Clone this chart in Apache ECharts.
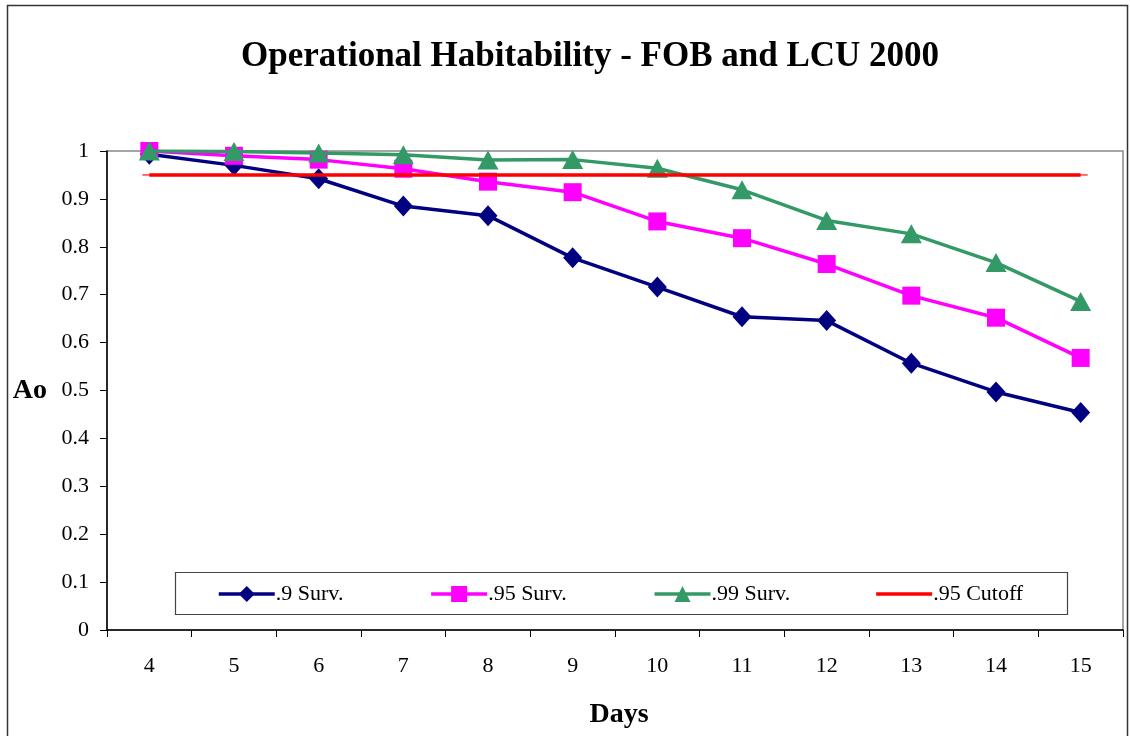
<!DOCTYPE html>
<html><head><meta charset="utf-8">
<script src="https://cdn.jsdelivr.net/npm/echarts@6/dist/echarts.min.js"></script>
<style>html,body{margin:0;padding:0;background:#fff;overflow:hidden}#c{width:1130px;height:736px}</style>
</head><body><div id="c"></div>
<script>
const days = ['4','5','6','7','8','9','10','11','12','13','14','15'];
const surv90 = [0.993,0.970,0.942,0.885,0.865,0.777,0.716,0.654,0.646,0.557,0.497,0.454];
const surv95 = [1.000,0.990,0.982,0.963,0.936,0.914,0.853,0.818,0.764,0.698,0.652,0.568];
const surv99 = [1.000,0.999,0.996,0.992,0.981,0.982,0.964,0.919,0.855,0.827,0.767,0.686];
const cutoff = [0.95,0.95,0.95,0.95,0.95,0.95,0.95,0.95,0.95,0.95,0.95,0.95];
const yTicks = {min:0, max:1, interval:0.1};
const names = ['.9 Surv.','.95 Surv.','.99 Surv.','.95 Cutoff'];

const serif = '"Liberation Serif","Times New Roman",serif';
const chart = echarts.init(document.getElementById('c'));
chart.setOption({
  animation:false,
  backgroundColor:'#fff',
  textStyle:{fontFamily:serif},
  title:{text:'Operational Habitability - FOB and LCU 2000', left:236, top:34,
    textStyle:{fontFamily:serif,fontWeight:'bold',fontSize:35,color:'#000'}},
  graphic:[
    {type:'rect',shape:{x:7.5,y:5.5,width:1120,height:740},style:{fill:'none',stroke:'#333',lineWidth:1.5},silent:true},
    {type:'rect',shape:{x:175.5,y:572.5,width:892,height:42},style:{fill:'#fff',stroke:'#444',lineWidth:1.2},silent:true,z:6}
  ],
  legend:{data:[names[0],names[1],names[2],{name:names[3],icon:'path://M0,0 L56,0 L56,3.5 L0,3.5 Z'}],
    left:212, top:578, itemWidth:56, itemHeight:20, itemGap:86, z:10,
    lineStyle:{width:3.5},
    textStyle:{fontFamily:serif,fontSize:22,color:'#000',padding:[0,0,0,-4]}},
  grid:{left:107,right:7,top:151,height:479,show:true,borderColor:'#888',borderWidth:1.5},
  xAxis:{type:'category',data:days,boundaryGap:true,
    name:'Days',nameLocation:'middle',nameGap:71,
    nameTextStyle:{fontFamily:serif,fontWeight:'bold',fontSize:28,color:'#000',padding:[0,0,0,8]},
    axisLine:{lineStyle:{color:'#000',width:1.5}},
    axisTick:{show:true,length:7,inside:false,lineStyle:{color:'#000'}},
    axisLabel:{fontFamily:serif,fontSize:22,color:'#000',margin:25}},
  yAxis:{type:'value',min:yTicks.min,max:yTicks.max,interval:yTicks.interval,
    name:'Ao',nameLocation:'middle',nameRotate:0,nameGap:60,
    nameTextStyle:{fontFamily:serif,fontWeight:'bold',fontSize:28,color:'#000'},
    axisLine:{show:true,lineStyle:{color:'#000',width:1.5}},
    axisTick:{show:true,length:7,lineStyle:{color:'#000'}},
    splitLine:{show:false},
    axisLabel:{fontFamily:serif,fontSize:22,color:'#000',margin:18,
      formatter:v=>String(Math.round(v*10)/10)}},
  series:[
    {name:names[0],type:'line',data:surv90,symbol:'diamond',symbolSize:[19,21],z:2,
      lineStyle:{color:'#000080',width:3.5},itemStyle:{color:'#000080'}},
    {name:names[1],type:'line',data:surv95,symbol:'rect',symbolSize:18,z:3,
      lineStyle:{color:'#ff00ff',width:3.5},itemStyle:{color:'#ff00ff'}},
    {name:names[2],type:'line',data:surv99,symbol:'triangle',symbolSize:[21,19],z:4,
      lineStyle:{color:'#339966',width:3.5},itemStyle:{color:'#339966'}},
    {name:names[3],type:'line',data:cutoff,symbol:'path://M0,0 L14,0 L14,4 L0,4 Z',symbolKeepAspect:true,symbolSize:[14,4],z:5,
      lineStyle:{color:'#ff0000',width:3.5},itemStyle:{color:'#ff0000'}}
  ]
});
</script></body></html>
